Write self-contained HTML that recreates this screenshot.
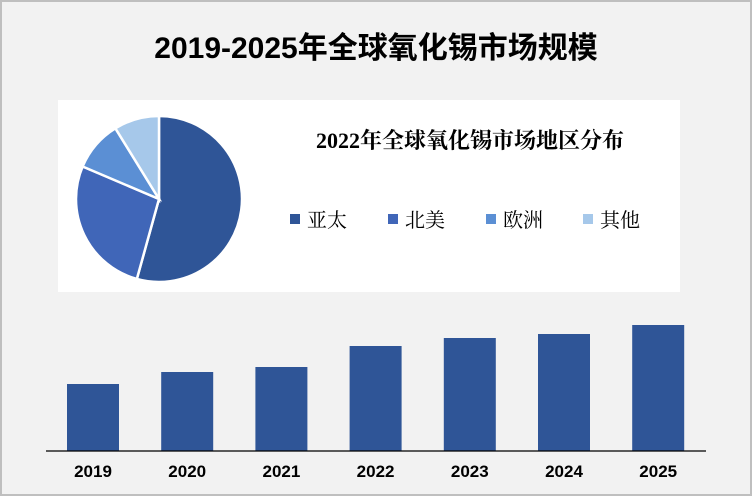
<!DOCTYPE html>
<html><head><meta charset="utf-8"><style>
body{margin:0;background:#fff}
#c{position:relative;width:748px;height:492px;border:2px solid #bfbfbf;background:#f2f2f2;overflow:hidden;font-family:"Liberation Sans","Noto Sans CJK SC",sans-serif}
</style></head><body>
<div id="c">
<svg width="748" height="492" viewBox="2 2 748 492" id="s">
<text x="376" y="58" text-anchor="middle" font-size="30" font-weight="bold" fill="#000" font-family="Liberation Sans, Noto Sans CJK SC, sans-serif">2019-2025年全球氧化锡市场规模</text>
<rect x="58" y="100" width="622" height="192" fill="#fff"/>
<g id="pie"></g>
<text x="470" y="148" text-anchor="middle" font-size="22" font-weight="bold" fill="#000" font-family="Liberation Serif, Noto Serif CJK SC, serif">2022年全球氧化锡市场地区分布</text>
<g id="legend"></g>
<g id="bars"></g>
<line x1="46" y1="451" x2="706" y2="451" stroke="#000" stroke-width="1.3"/>
</svg>
</div>
<script>
const regions=["亚太","北美","欧洲","其他"];
const shares=[54.3,27.1,9.8,8.8];
const years=["2019","2020","2021","2022","2023","2024","2025"];
const sizes=[67,79,84,105,113,117,126];
const NS="http://www.w3.org/2000/svg";
const colors=["#2f5597","#4066b8","#5b8fd4","#a6c8ea"];
const pie=document.getElementById('pie');
const cx=159,cy=199,r=83;
const total=shares.reduce((a,b)=>a+b,0);
let a0=0;
shares.forEach((v,i)=>{
  const a1=a0+v/total*2*Math.PI;
  const x0=cx+r*Math.sin(a0),y0=cy-r*Math.cos(a0),x1=cx+r*Math.sin(a1),y1=cy-r*Math.cos(a1);
  const p=document.createElementNS(NS,'path');
  p.setAttribute('d',`M${cx},${cy}L${x0},${y0}A${r},${r} 0 ${a1-a0>Math.PI?1:0} 1 ${x1},${y1}Z`);
  p.setAttribute('fill',colors[i]);p.setAttribute('stroke','#fff');p.setAttribute('stroke-width','2.5');
  
  
  pie.appendChild(p);a0=a1;
});
const lg=document.getElementById('legend');
const lx=[290,388,486,583];
regions.forEach((n,i)=>{
  const g=document.createElementNS(NS,'g');
  
  
  const s=document.createElementNS(NS,'rect');
  s.setAttribute('x',lx[i]);s.setAttribute('y',214);s.setAttribute('width',10);s.setAttribute('height',10);s.setAttribute('fill',colors[i]);
  const t=document.createElementNS(NS,'text');
  t.setAttribute('x',lx[i]+17);t.setAttribute('y',227);t.setAttribute('font-size','20');
  t.setAttribute('font-family','Liberation Serif, Noto Serif CJK SC, serif');
  t.textContent=n;g.appendChild(s);g.appendChild(t);lg.appendChild(g);
});
const bars=document.getElementById('bars');
const base=451,step=94.2,first=93,bw=52,scale=1;
years.forEach((y,i)=>{
  const c=first+i*step,h=sizes[i]*scale;
  const b=document.createElementNS(NS,'rect');
  b.setAttribute('x',c-bw/2);b.setAttribute('y',base-h);b.setAttribute('width',bw);b.setAttribute('height',h);b.setAttribute('fill','#2f5597');
  
  
  bars.appendChild(b);
  const t=document.createElementNS(NS,'text');
  t.setAttribute('x',c);t.setAttribute('y',477);t.setAttribute('text-anchor','middle');t.setAttribute('font-size','17');t.setAttribute('font-weight','bold');
  
  
  t.textContent=y;bars.appendChild(t);
});
</script>
</body></html>
